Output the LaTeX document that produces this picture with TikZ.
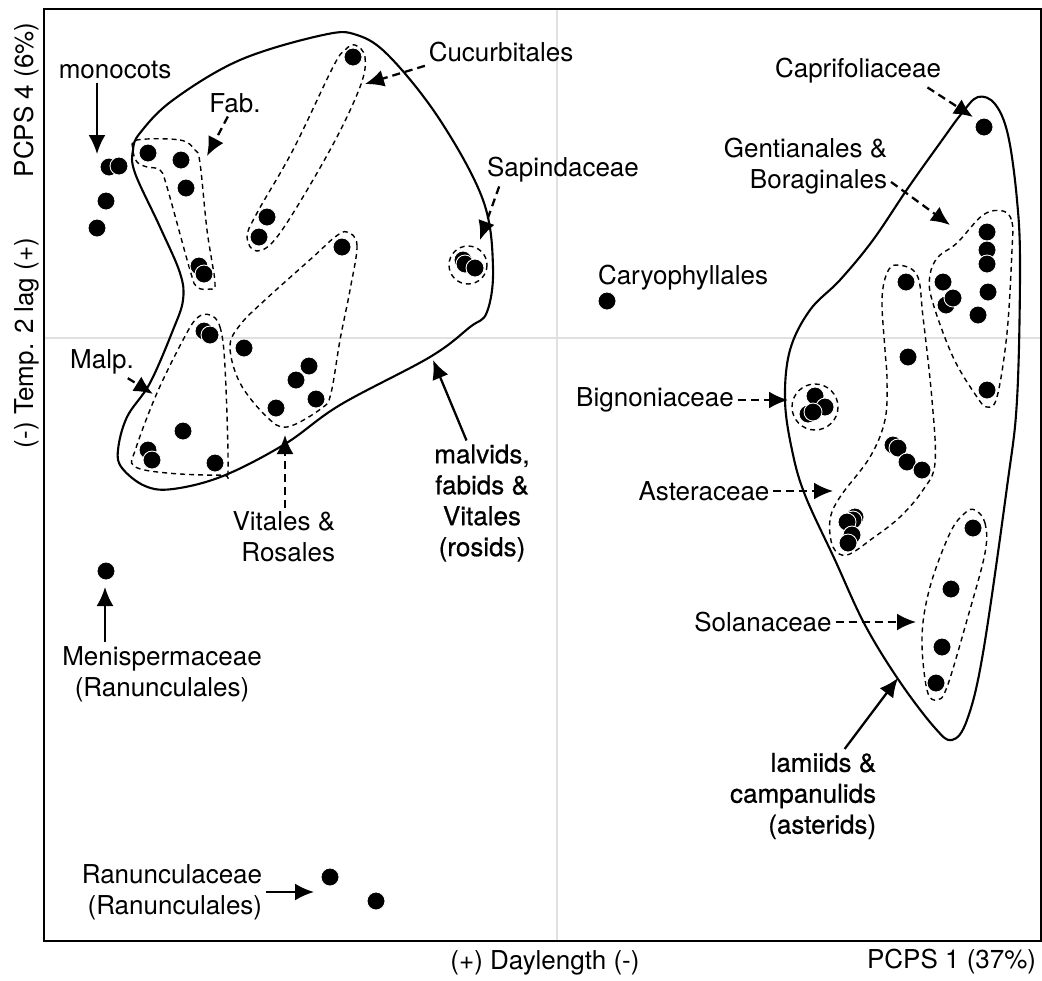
\documentclass[tikz,border=0pt]{standalone}
\usepackage{fontspec}
\setmainfont{TeX Gyre Heros}
\newfontfamily\medfont[FakeBold=0.6]{TeX Gyre Heros}
\usetikzlibrary{arrows.meta,calc}
\definecolor{gridgray}{gray}{0.88}

\begin{document}
\begin{tikzpicture}[x=0.02cm, y=-0.02cm,
        font=\fontsize{14.8}{17.6}\selectfont,
        lbl/.style={inner sep=2pt},
        sample/.style={circle, fill=black, draw=white, line width=0.5pt, inner sep=0pt, minimum size=0.36cm},
        hull/.style={line width=1.2pt},
        clade/.style={line width=0.8pt, dash pattern=on 1mm off 0.8mm},
        arr/.style={-{Latex[length=3.8mm,width=3.4mm]}, line width=1.3pt},
        darr/.style={arr, dash pattern=on 1.6mm off 1mm}]
    \useasboundingbox (0,0) rectangle (1042,981);

    % axes
    \draw[gridgray, line width=1pt] (557,9) -- (557,941) (44,338) -- (1041,338);
    \draw[line width=1.1pt] (44,9) rectangle (1041,941);
    \node[lbl] (xlab) at (545,963) {(+) Daylength (-)};
    \node[lbl, anchor=east] (xpc) at (1040,962) {PCPS 1 (37\%)};
    \node[lbl, rotate=90] (ylab) at (27,343) {(-) Temp. 2 lag (+)};
    \node[lbl, rotate=90] (ypc) at (27,100) {PCPS 4 (6\%)};

    % outlines
    \draw[hull] plot[smooth cycle, tension=0.6] coordinates {(140,133) (173,100) (240,60) (323,35) (357,35) (390,57)
        (440,120) (483,200) (493,267) (487,312) (470,327) (430,357) (340,405) (285,444) (223,476) (173,489)
        (145,486) (122,468) (118,450) (127,417) (150,383) (173,330) (183,300) (180,273) (160,227) (135,173) (133,150)};
    \draw[hull] plot[smooth cycle, tension=0.6] coordinates {(978,97) (995,104) (1008,135) (1017,200) (1020,267)
        (1017,400) (1007,487) (983,653) (967,720) (952,740) (935,728) (900,682) (865,625) (835,560) (805,495)
        (792,450) (785,400) (790,350) (810,310) (840,280) (873,240) (908,188) (940,143) (962,113)};

    \draw[clade] plot[smooth cycle, tension=0.6] coordinates {(137,140) (180,140) (195,150) (200,163) (207,230)
        (215,283) (210,289) (197,287) (190,270) (167,187) (160,170) (147,167) (137,162) (133,150)};
    \draw[clade] plot[smooth cycle, tension=0.6] coordinates {(355,45) (365,57) (360,87) (330,150) (280,233)
        (257,251) (247,237) (257,213) (293,150) (333,67) (345,50)};
    \draw[clade] plot[smooth cycle, tension=0.6] coordinates {(347,232) (357,245) (350,290) (340,340) (331,393)
        (322,408) (287,427) (266,416) (240,383) (230,347) (240,325) (265,300) (313,257) (335,237)};
    \draw[clade] plot[smooth cycle, tension=0.6] coordinates {(210,315) (220,327) (225,367) (228,470) (222,475)
        (167,473) (134,466) (136,448) (157,393) (183,340) (197,318)};
    \draw[clade] (468,265) circle (19);
    \draw[clade] (815,407) circle (23);
    \draw[clade] plot[smooth cycle, tension=0.6] coordinates {(1003,211) (1012,222) (1012,250) (1007,333)
        (997,397) (987,407) (977,397) (953,357) (932,300) (930,275) (938,257) (957,243) (983,215)};
    \draw[clade] plot[smooth cycle, tension=0.6] coordinates {(897,265) (917,275) (923,317) (932,400) (935,463)
        (923,490) (900,517) (873,538) (847,555) (833,547) (830,520) (840,497) (870,457) (885,420) (887,380)
        (885,350) (882,300) (887,273)};
    \draw[clade] plot[smooth cycle, tension=0.6] coordinates {(975,510) (985,523) (985,553) (967,620) (947,687)
        (937,700) (927,690) (922,637) (930,587) (950,533) (965,513)};

    % samples
    \foreach \xy [count=\i] in {{109,167},{119,166},{106,201},{97,228},{148,153},{181,160},{186,188},
            {199,266},{204,274},{353,57},{267,217},{259,237},{342,247},{244,348},{309,366},{296,380},
            {316,399},{276,408},{204,331},{210,335},{183,431},{148,450},{152,460},{215,463},{463,260},
            {465,264},{475,268},{106,571},{330,877},{376,901},{607,301}}
        \node[sample] (r\i) at (\xy) {};
    \foreach \xy [count=\i] in {{984,127},{987,232},{987,250},{987,264},{988,292},{978,315},{943,282},
            {946,305},{953,298},{987,390},{906,282},{908,357},{893,445},{898,448},{907,462},{922,470},
            {855,517},{853,520},{847,522},{852,535},{848,543},{815,396},{825,407},{808,414},{813,412},
            {973,528},{951,589},{942,647},{936,683}}
        \node[sample] (a\i) at (\xy) {};

    % labels
    \node[lbl] (mono) at (115,70) {monocots};
    \node[lbl] (fab) at (235,103) {Fab.};
    \node[lbl] (cucu) at (501,52) {Cucurbitales};
    \node[lbl] (sapi) at (563,170) {Sapindaceae};
    \node[lbl] (malp) at (102,362) {Malp.};
    \node[lbl, anchor=east, align=right] (vita) at (339,537) {Vitales \&\\Rosales};
    \node[lbl, align=center, font=\medfont\fontsize{14.8}{17.6}\selectfont] (malv) at (482,503) {malvids,\\fabids \&\\Vitales\\(rosids)};
    \node[lbl, align=center] (meni) at (162,674) {Menispermaceae\\(Ranunculales)};
    \node[lbl, anchor=east, align=right] (ranu) at (266,892) {Ranunculaceae\\(Ranunculales)};
    \node[lbl] (cary) at (683,278) {Caryophyllales};
    \node[lbl] (capr) at (858,71) {Caprifoliaceae};
    \node[lbl, anchor=east, align=right] (gent) at (891,166) {Gentianales \&\\Boraginales};
    \node[lbl] (bign) at (655,400) {Bignoniaceae};
    \node[lbl] (aste) at (704,491) {Asteraceae};
    \node[lbl] (sola) at (763,622) {Solanaceae};
    \node[lbl, anchor=east, align=right, font=\medfont\fontsize{14.8}{17.6}\selectfont] (lami) at (880,796) {lamiids \&\\campanulids\\(asterids)};

    % arrow tips
    \coordinate (monotip) at (97,154);
    \coordinate (fabtip) at (207,156);
    \coordinate (cucutip) at (365,84);
    \coordinate (saptip) at (480,240);
    \coordinate (malptip) at (153,394);
    \coordinate (vitatip) at (285,435);
    \coordinate (malvtip) at (433,360);
    \coordinate (menitip) at (105,587);
    \coordinate (ranutip) at (314,892);
    \coordinate (caprtip) at (973,117);
    \coordinate (genttip) at (950,225);
    \coordinate (bigntip) at (788,400);
    \coordinate (astetip) at (833,491);
    \coordinate (solatip) at (916,622);
    \coordinate (lamitip) at (898,678);

    \draw[arr] (mono.south -| monotip) -- (monotip);
    \draw[darr] (fab) -- (fabtip);
    \draw[darr] (cucu.south west) -- (cucutip);
    \draw[darr] ($(sapi.south west)!0.1!(sapi.south east)$) -- (saptip);
    \draw[darr] (malp) -- (malptip);
    \draw[darr] (vita.north -| vitatip) -- (vitatip);
    \draw[arr] ($(malv.north)!0.3!(malv.north west)$) -- (malvtip);
    \draw[arr] (meni.north -| menitip) -- (menitip);
    \draw[arr] (ranu) -- (ranutip);
    \draw[darr] ($(capr.south east)!0.1!(capr.south west)$) -- (caprtip);
    \draw[darr] ($(gent.east)!0.5!(gent.south east)$) -- (genttip);
    \draw[darr] (bign) -- (bigntip);
    \draw[darr] (aste) -- (astetip);
    \draw[darr] (sola) -- (solatip);
    \draw[arr] ($(lami.north east)!0.23!(lami.north west)$) -- (lamitip);
\end{tikzpicture}
\end{document}
